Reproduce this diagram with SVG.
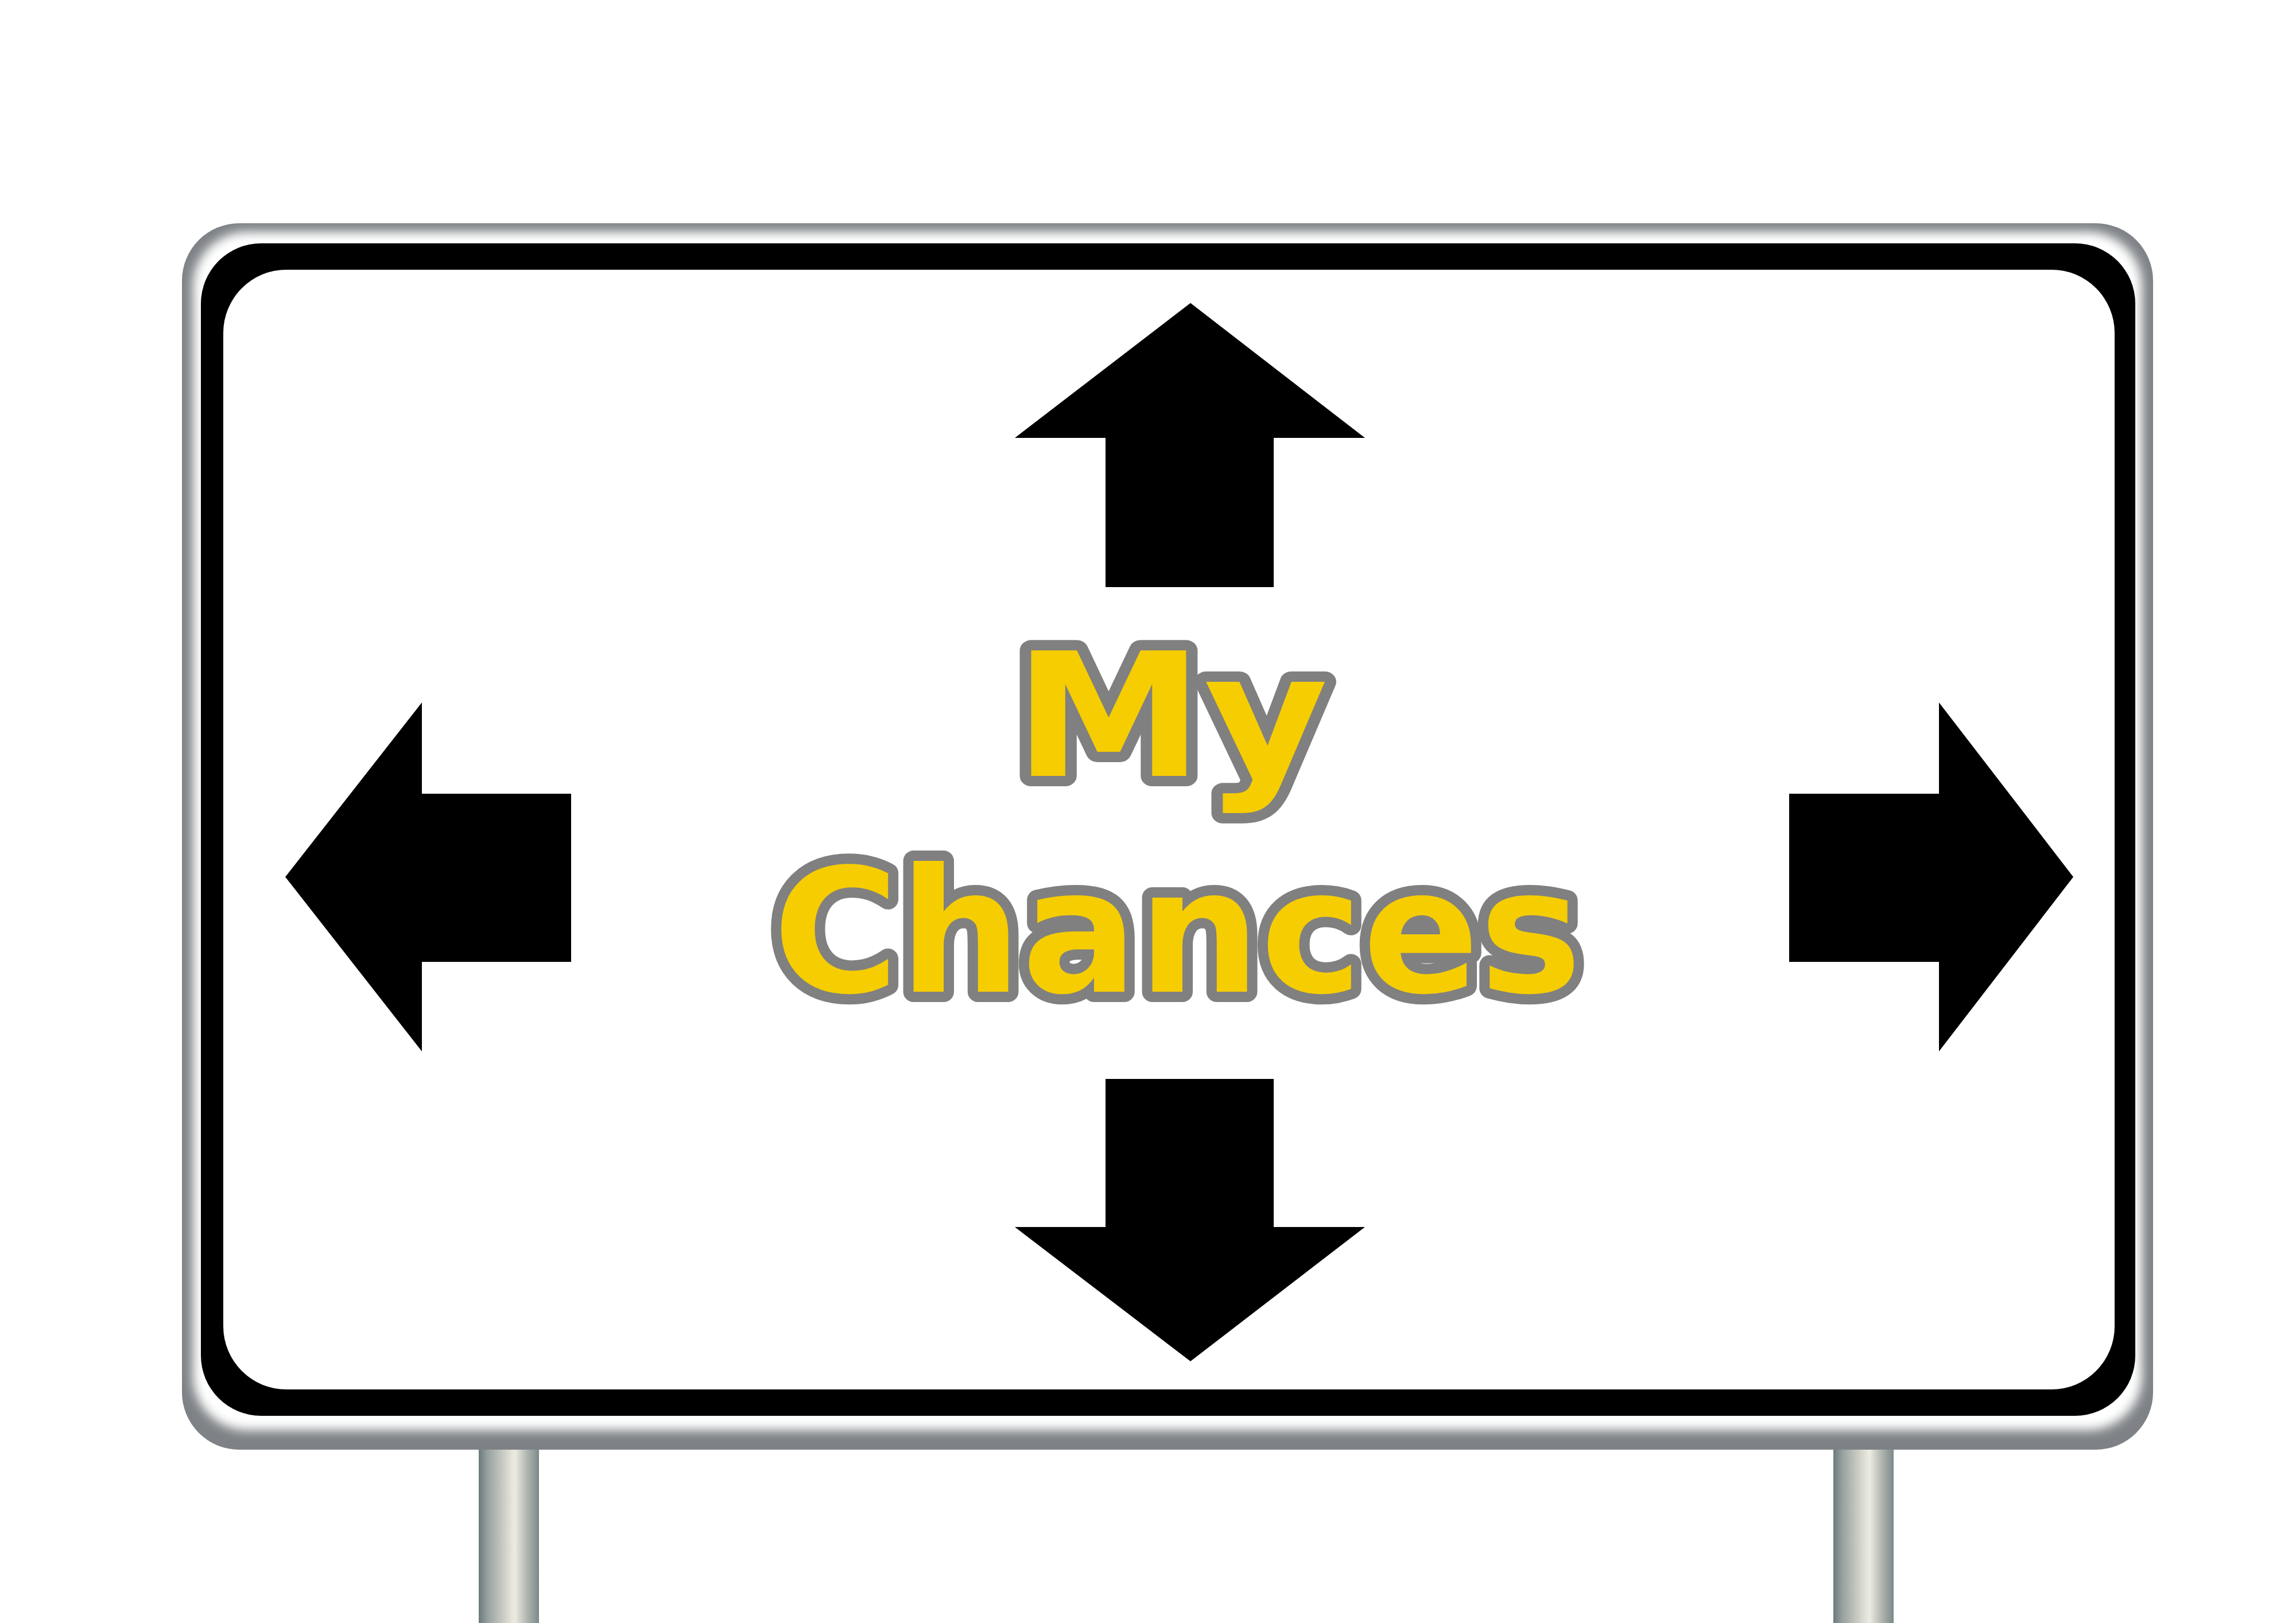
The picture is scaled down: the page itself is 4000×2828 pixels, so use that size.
<svg xmlns="http://www.w3.org/2000/svg" width="4000" height="2828" viewBox="0 0 4000 2828">
<style>
.arrow{fill:#000000}
.label{font-family:"DejaVu Sans","Liberation Sans",sans-serif;font-weight:bold;font-size:300px;fill:#f6cd00;stroke:#808080;stroke-width:36px;stroke-linejoin:round;paint-order:stroke}
</style>
<defs>
<linearGradient id="pole" x1="0" y1="0" x2="1" y2="0">
<stop offset="0" stop-color="#6a7a7e"/>
<stop offset="0.15" stop-color="#98a19f"/>
<stop offset="0.5" stop-color="#dcdcd2"/>
<stop offset="0.6" stop-color="#ecece2"/>
<stop offset="0.8" stop-color="#b2b6b0"/>
<stop offset="1" stop-color="#7b898a"/>
</linearGradient>
<clipPath id="frameClip">
<rect x="317" y="389" width="3434" height="2137" rx="100"/>
</clipPath>
<filter id="soft" x="-5%" y="-5%" width="110%" height="110%">
<feGaussianBlur stdDeviation="9"/>
</filter>
</defs>
<rect width="4000" height="2828" fill="#ffffff"/>
<g id="posts">
<rect x="834" y="2500" width="105" height="328" fill="url(#pole)"/>
<rect x="3194" y="2500" width="105" height="328" fill="url(#pole)"/>
</g>
<g id="sign">
<rect x="317" y="389" width="3434" height="2137" rx="100" fill="#7e8286"/>
<g clip-path="url(#frameClip)">
<rect x="336" y="404" width="3396" height="2088" rx="95" fill="#ffffff" filter="url(#soft)"/>
</g>
<rect x="350" y="424" width="3370" height="2043" rx="105" fill="#000000"/>
<rect x="389" y="470" width="3295" height="1951" rx="110" fill="#ffffff"/>
</g>
<g id="connectors">
<polygon id="arrow-up" class="arrow" points="2074,528 2378,763 2219,763 2219,1023 1926,1023 1926,763 1768,763"/>
<polygon id="arrow-down" class="arrow" points="1926,1880 2219,1880 2219,2138 2378,2138 2074,2372 1768,2138 1926,2138"/>
<polygon id="arrow-left" class="arrow" points="497,1528 735,1224 735,1383 995,1383 995,1676 735,1676 735,1832"/>
<polygon id="arrow-right" class="arrow" points="3117,1383 3378,1383 3378,1224 3612,1528 3378,1832 3378,1676 3117,1676"/>
</g>
<g id="title">
<text class="label" x="1766" y="1352" textLength="548" lengthAdjust="spacingAndGlyphs">My</text>
<text class="label" x="2051" y="1728" text-anchor="middle">Chances</text>
</g>
</svg>
